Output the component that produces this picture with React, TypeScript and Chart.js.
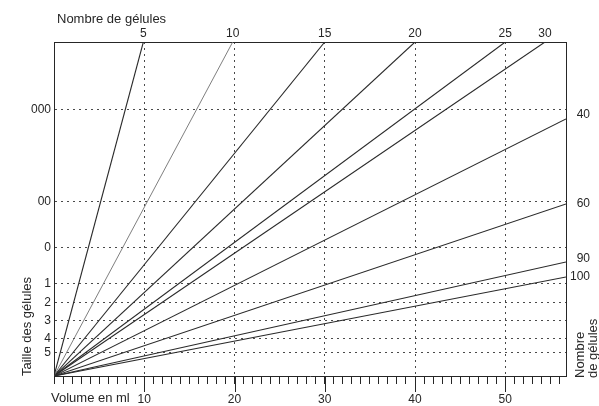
import React, { useEffect, useRef } from "react";
import { Chart, registerables } from "chart.js";

Chart.register(...registerables);

// ---- data ----
const gelulesCounts = [5, 10, 15, 20, 25, 30, 40, 60, 90, 100];
const lineEndVolume = [9.9, 19.8, 30, 40, 50, 54.4, 56.73, 56.73, 56.73, 56.73];
const lineEndSize = [2, 2, 2, 2, 2, 2, 1.539, 1.03, 0.683, 0.593];

const capsuleSizes = ["000", "00", "0", "1", "2", "3", "4", "5"];
const capsulePositions = [1.593, 1.042, 0.769, 0.551, 0.439, 0.331, 0.222, 0.141];

const topLabels = ["5", "10", "15", "20", "25", "30"];
const topLabelPositions = [9.9, 19.8, 30, 40, 50, 54.4];

const rightLabels = ["40", "60", "90", "100"];
const rightLabelPositions = [1.563, 1.03, 0.701, 0.593];

const volumeMajorTicks = [10, 20, 30, 40, 50];
const volumeMin = 0;
const volumeMax = 56.73;
const sizeMin = 0;
const sizeMax = 2;

const FONT = "'Liberation Sans', Arial, sans-serif";
const INK = "#262626";
const GRID = "#4a4a4a";

const overlayPlugin = {
  id: "overlayTexts",
  afterDraw(chart: any) {
    const { ctx, chartArea } = chart;
    const xs = chart.scales.x;
    ctx.save();
    // long major ticks under the x axis
    ctx.strokeStyle = INK;
    ctx.lineWidth = 1;
    volumeMajorTicks.forEach((v) => {
      const px = Math.round(xs.getPixelForValue(v)) + 0.5;
      ctx.beginPath();
      ctx.moveTo(px, chartArea.bottom);
      ctx.lineTo(px, chartArea.bottom + 16);
      ctx.stroke();
    });
    ctx.fillStyle = INK;
    ctx.font = `13px ${FONT}`;
    ctx.textBaseline = "middle";
    ctx.textAlign = "left";
    ctx.fillText("Nombre de gélules", chartArea.left + 3, 19);
    ctx.fillText("Volume en ml", chartArea.left - 3, 398);

    const rot = (text: string, x: number, y: number) => {
      ctx.save();
      ctx.translate(x, y);
      ctx.rotate(-Math.PI / 2);
      ctx.textAlign = "left";
      ctx.textBaseline = "middle";
      ctx.fillText(text, 0, 0);
      ctx.restore();
    };
    rot("Taille des gélules", 27, chartArea.bottom);
    rot("Nombre", chartArea.right + 14, chartArea.bottom + 2);
    rot("de gélules", chartArea.right + 27, chartArea.bottom + 2);
    ctx.restore();
  },
};

export default function App() {
  const ref = useRef<HTMLCanvasElement | null>(null);

  useEffect(() => {
    if (!ref.current) return;
    const datasets = gelulesCounts.map((n, i) => ({
      label: String(n),
      data: [
        { x: 0, y: 0 },
        { x: lineEndVolume[i], y: lineEndSize[i] },
      ],
      showLine: true,
      borderColor: n === 10 ? "#707070" : "#2a2a2a",
      borderWidth: n === 10 ? 0.9 : 1.1,
      pointRadius: 0,
      xAxisID: "x",
      yAxisID: "y",
    }));

    const chart = new Chart(ref.current, {
      type: "scatter",
      data: { datasets },
      plugins: [overlayPlugin],
      options: {
        animation: false,
        responsive: false,
        events: [],
        layout: { padding: { left: 0, top: 0, right: 9, bottom: 0 } },
        plugins: { legend: { display: false }, tooltip: { enabled: false } },
        scales: {
          x: {
            type: "linear",
            position: "bottom",
            min: volumeMin,
            max: volumeMax,
            afterFit: (s: any) => {
              s.height = 30;
            },
            ticks: {
              stepSize: 1,
              includeBounds: false,
              autoSkip: false,
              maxRotation: 0,
              minRotation: 0,
              padding: 8,
              color: INK,
              font: { size: 12, family: FONT },
              callback: (v: any) =>
                volumeMajorTicks.includes(Number(v)) ? String(v) : "",
            },
            grid: {
              display: true,
              drawOnChartArea: true,
              drawTicks: true,
              tickLength: 8,
              tickColor: INK,
              tickWidth: 1,
              lineWidth: 1,
              color: (c: any) =>
                c.tick && volumeMajorTicks.includes(c.tick.value)
                  ? GRID
                  : "rgba(0,0,0,0)",
            },
            border: { display: true, color: INK, width: 1, dash: [2, 4] },
          },
          x2: {
            type: "linear",
            position: "top",
            min: volumeMin,
            max: volumeMax,
            afterFit: (s: any) => {
              s.height = 42;
            },
            afterBuildTicks: (s: any) => {
              s.ticks = topLabelPositions.map((v) => ({ value: v }));
            },
            ticks: {
              autoSkip: false,
              maxRotation: 0,
              minRotation: 0,
              padding: 1,
              color: INK,
              font: { size: 12, family: FONT },
              callback: (_v: any, i: number) => topLabels[i],
            },
            grid: { display: false, drawTicks: false },
            border: { display: true, color: INK, width: 1 },
          },
          y: {
            type: "linear",
            position: "left",
            min: sizeMin,
            max: sizeMax,
            afterFit: (s: any) => {
              s.width = 54;
            },
            afterBuildTicks: (s: any) => {
              s.ticks = capsulePositions.map((v) => ({ value: v }));
            },
            ticks: {
              autoSkip: false,
              padding: 3,
              color: INK,
              font: { size: 12, family: FONT },
              callback: (_v: any, i: number) => capsuleSizes[i],
            },
            grid: {
              display: true,
              drawTicks: false,
              color: GRID,
              lineWidth: 1,
            },
            border: { display: true, color: INK, width: 1, dash: [2, 4] },
          },
          y2: {
            type: "linear",
            position: "right",
            min: sizeMin,
            max: sizeMax,
            afterFit: (s: any) => {
              s.width = 24;
            },
            afterBuildTicks: (s: any) => {
              s.ticks = rightLabelPositions.map((v) => ({ value: v }));
            },
            ticks: {
              autoSkip: false,
              padding: 4,
              crossAlign: "far",
              color: INK,
              font: { size: 12, family: FONT },
              callback: (_v: any, i: number) => rightLabels[i],
            },
            grid: { display: false, drawTicks: false },
            border: { display: true, color: INK, width: 1 },
          },
        },
      } as any,
    });
    return () => chart.destroy();
  }, []);

  return (
    <div
      style={{
        position: "fixed",
        left: 0,
        top: 0,
        width: 599,
        height: 406,
        background: "#ffffff",
      }}
    >
      <canvas ref={ref} width={599} height={406} style={{ display: "block" }} />
    </div>
  );
}
